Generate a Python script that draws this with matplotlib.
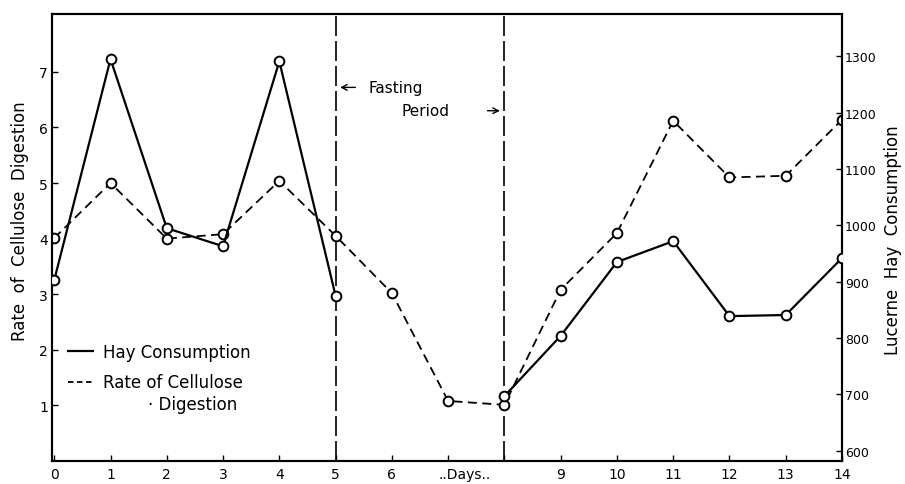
import matplotlib
matplotlib.use("Agg")
import matplotlib.pyplot as plt
from matplotlib.lines import Line2D

# digestion rate, left axis
dig_days = [0, 1, 2, 3, 4, 5, 6, 7, 8, 9, 10, 11, 12, 13, 14]
dig_rate = [4.01, 5.0, 4.0, 4.08, 5.04, 4.05, 3.02, 1.08, 1.01, 3.08, 4.1, 6.12, 5.1, 5.13, 6.14]

# hay consumption, right axis (none eaten in the fasting period)
hay_days_a = [0, 1, 2, 3, 4, 5]
hay_a = [903, 1295, 995, 963, 1291, 875]
hay_days_b = [8, 9, 10, 11, 12, 13, 14]
hay_b = [697, 804, 935, 972, 839, 841, 942]

fast_start = 5
fast_end = 8

xticks = list(range(15))
xlabels = ["0", "1", "2", "3", "4", "5", "6", "", "", "9", "10", "11", "12", "13", "14"]
left_ticks = [1, 2, 3, 4, 5, 6, 7]
right_ticks = [600, 700, 800, 900, 1000, 1100, 1200, 1300]

plt.rcParams['font.family'] = ['DejaVu Sans']

fig = plt.figure(figsize=(9.05, 4.85), dpi=100)
ax = fig.add_axes([52/905, 1-462/485, 790/905, 447/485])
ax2 = ax.twinx()

mk = dict(marker='o', markersize=7, markerfacecolor='white', markeredgecolor='black', markeredgewidth=1.4)

ax.plot(dig_days, dig_rate, color='black', lw=1.3, dashes=(5, 3), zorder=3, **mk)
ax2.plot(hay_days_a, hay_a, color='black', lw=1.6, zorder=3, **mk)
ax2.plot(hay_days_b, hay_b, color='black', lw=1.6, zorder=3, **mk)

for d in (fast_start, fast_end):
    ax.axvline(d, color='black', lw=1.2, dashes=(12, 3))

ax.set_xlim(-0.04, 14.0)
ax.set_ylim(0, 8.04)
ax2.set_ylim(582, 1375)

ax.set_xticks(xticks)
ax.set_xticklabels(xlabels)
ax.set_yticks(left_ticks)
ax2.set_yticks(right_ticks)

ax.tick_params(axis='x', direction='in', length=4, width=1, labelsize=10, pad=4)
ax.tick_params(axis='y', direction='in', length=4, width=1, labelsize=10, pad=3)
ax2.tick_params(axis='y', direction='in', length=4, width=1, labelsize=9, pad=2)
for a in (ax, ax2):
    for s in a.spines.values():
        s.set_linewidth(1.5)

ax.text(7.3, -0.028, "..Days..", transform=ax.get_xaxis_transform(), ha='center', va='center', fontsize=10)

ax.annotate('', xy=(5.03, 6.72), xytext=(5.4, 6.72),
            arrowprops=dict(arrowstyle='->', color='black', lw=1))
ax.text(5.58, 6.72, "Fasting", ha='left', va='center', fontsize=11)
ax.text(6.17, 6.3, "Period", ha='left', va='center', fontsize=11)
ax.annotate('', xy=(7.97, 6.3), xytext=(7.65, 6.3),
            arrowprops=dict(arrowstyle='->', color='black', lw=1))

handles = [Line2D([], [], color='black', lw=1.6),
           Line2D([], [], color='black', lw=1.3, dashes=(3, 2))]
ax.legend(handles, ["Hay Consumption", "Rate of Cellulose"], loc='center left',
          bbox_to_anchor=(0.02, 0.21), frameon=False, fontsize=12,
          handlelength=1.5, handletextpad=0.6, labelspacing=0.75,
          borderpad=0, borderaxespad=0)
ax.text(0.122, 0.128, "\u00b7 Digestion", transform=ax.transAxes, ha='left', va='center', fontsize=12)

fig.text(20/905, 1-221/485, "Rate  of  Cellulose  Digestion", rotation=90, ha='center', va='center', fontsize=12)
fig.text(893/905, 1-240/485, "Lucerne  Hay  Consumption", rotation=90, ha='center', va='center', fontsize=12)

fig.savefig("out.png", dpi=100)
